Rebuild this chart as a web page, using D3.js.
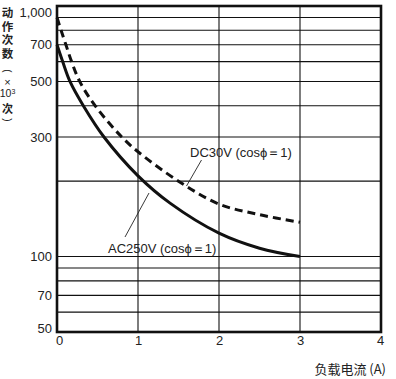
<!DOCTYPE html>
<html><head><meta charset="utf-8">
<script src="https://cdn.jsdelivr.net/npm/d3@7"></script>
<style>body{margin:0;background:#fff}svg{display:block}</style>
</head><body>
<svg id="c" width="396" height="379"></svg>
<script>
const acCurrent = [0, 0.07, 0.16, 0.325, 0.58, 1.0, 1.4, 2, 2.5, 3];
const ac250     = [700, 600, 500, 400, 300, 210, 163, 124, 108, 100];
const dcCurrent = [0, 0.05, 0.11, 0.18, 0.28, 0.47, 0.8, 1.0, 1.5, 2, 2.5, 3];
const dc30      = [900, 800, 700, 600, 500, 400, 300, 262, 200, 162, 147, 137];
const xTicks = [0, 1, 2, 3, 4];
const yTicks = [50, 70, 100, 300, 500, 700, 1000];
const yTickLabels = ["50", "70", "100", "300", "500", "700", "1,000"];
const yGrid = [60, 70, 80, 90, 100, 200, 300, 400, 500, 600, 700, 800, 900];
const xGrid = [1, 2, 3];

const svg = d3.select("#c");
const L = 57, R = 381, T = 6, B = 332;
const x = d3.scaleLinear().domain([0, 4]).range([L, R]);
const y = d3.scaleLog().domain([50, 1000]).range([B, T]);
const font = "'Liberation Sans', Arial, sans-serif";
const cjk = "'Noto Sans CJK SC', sans-serif";

// grid
svg.append("g").selectAll("line").data(yGrid).join("line")
  .attr("x1", L).attr("x2", R).attr("y1", d => y(d)).attr("y2", d => y(d))
  .attr("stroke", "#111").attr("stroke-width", 1.1);
svg.append("g").selectAll("line").data(xGrid).join("line")
  .attr("x1", d => x(d)).attr("x2", d => x(d)).attr("y1", T).attr("y2", B)
  .attr("stroke", "#111").attr("stroke-width", 1.1);

// frame
svg.append("rect").attr("x", L).attr("y", T).attr("width", R - L).attr("height", B - T)
  .attr("fill", "none").attr("stroke", "#111").attr("stroke-width", 2.6);

// axes labels
const xAxis = d3.axisBottom(x).tickValues(xTicks).tickSize(0).tickFormat(d3.format("d"));
const gx = svg.append("g").attr("transform", `translate(0,${B})`).call(xAxis);
gx.select(".domain").remove();
gx.selectAll("text").attr("font-family", font).attr("font-size", 13).attr("fill", "#222")
  .attr("dy", "0.71em").attr("y", 4)
  .attr("dx", d => d === 0 ? 2 : (d === 4 ? -1 : 0));

const yAxis = d3.axisLeft(y).tickValues(yTicks).tickSize(0)
  .tickFormat(d => yTickLabels[yTicks.indexOf(d)]);
const gy = svg.append("g").attr("transform", `translate(${L},0)`).call(yAxis);
gy.select(".domain").remove();
gy.selectAll("text").attr("font-family", font).attr("font-size", 13).attr("fill", "#222")
  .attr("x", -5)
  .attr("dy", d => d === 1000 ? "0.82em" : (d === 50 ? "0.05em" : "0.32em"));

// curves
const mk = xs => d3.line().x((d, i) => x(xs[i])).y(d => y(d)).curve(d3.curveCatmullRom.alpha(0.5));
svg.append("path").datum(ac250).attr("d", mk(acCurrent)).attr("fill", "none")
  .attr("stroke", "#111").attr("stroke-width", 3);
svg.append("path").datum(dc30).attr("d", mk(dcCurrent)).attr("fill", "none")
  .attr("stroke", "#111").attr("stroke-width", 3).attr("stroke-dasharray", "8,5");

// annotations
svg.append("text").attr("x", 190).attr("y", 157).text("DC30V (cos\u03D5\uFF1D1)")
  .attr("font-family", font).attr("font-size", 13).attr("fill", "#222");
svg.append("line").attr("x1", 201.5).attr("y1", 160).attr("x2", 186.5).attr("y2", 186)
  .attr("stroke", "#222").attr("stroke-width", 0.9);
svg.append("text").attr("x", 108).attr("y", 253).text("AC250V (cos\u03D5\uFF1D1)")
  .attr("font-family", font).attr("font-size", 13).attr("fill", "#222");
svg.append("line").attr("x1", 125).attr("y1", 237).attr("x2", 149).attr("y2", 193)
  .attr("stroke", "#222").attr("stroke-width", 0.9);

// x title
svg.append("text").attr("x", 386).attr("y", 374).attr("text-anchor", "end")
  .attr("font-family", cjk).attr("font-size", 13).attr("fill", "#222")
  .text("负载电流 (A)");

// y title (vertical)
const yt = svg.append("g").attr("fill", "#222");
yt.append("text").attr("x", 7.5).attr("y", 7.3)
  .style("writing-mode", "vertical-rl").style("letter-spacing", "1.9px")
  .attr("font-family", cjk).attr("font-size", 11.5).attr("font-weight", "bold").text("动作次数");
yt.append("text").attr("x", 7.5).attr("y", 109).attr("dy", "0.36em").attr("text-anchor", "middle")
  .attr("font-family", cjk).attr("font-size", 11).attr("font-weight", "bold").text("次");
yt.append("text").attr("transform", "translate(7.5,71) rotate(90)").attr("text-anchor", "middle")
  .attr("dy", "0.33em").attr("font-family", font).attr("font-size", 10).text("(");
yt.append("text").attr("transform", "translate(7.5,120) rotate(90)").attr("text-anchor", "middle")
  .attr("dy", "0.33em").attr("font-family", font).attr("font-size", 10).text(")");
yt.append("text").attr("x", 7.5).attr("y", 82).attr("dy", "0.35em").attr("text-anchor", "middle")
  .attr("font-family", font).attr("font-size", 11).text("×");
const t10 = yt.append("text").attr("x", 7.5).attr("y", 93.5).attr("dy", "0.35em").attr("text-anchor", "middle")
  .attr("font-family", font).attr("font-size", 10.5);
t10.append("tspan").text("10");
t10.append("tspan").attr("font-size", 7).attr("dy", "-0.5em").text("3");
</script>
</body></html>
